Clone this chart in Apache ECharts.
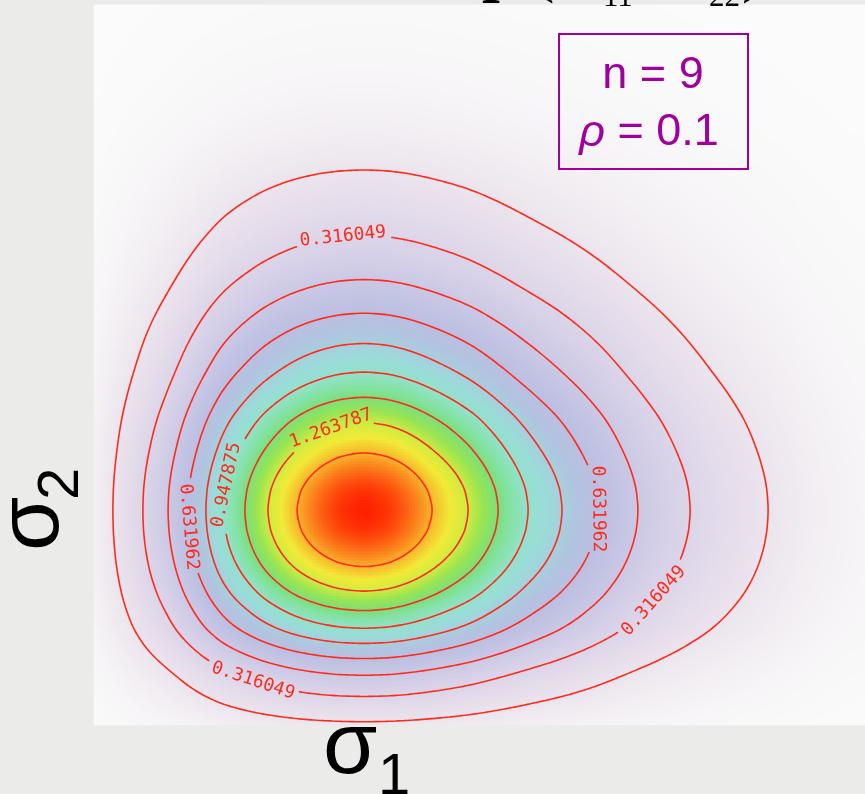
<!DOCTYPE html>
<html>
<head>
<meta charset="utf-8">
<script src="https://cdn.jsdelivr.net/npm/echarts@6/dist/echarts.min.js"></script>
<style>
  html, body { margin: 0; padding: 0; background: #ebebea; }
  #chart { width: 865px; height: 794px; }
</style>
</head>
<body>
<div id="chart"></div>
<script>
// Plotted window on the two σ axes
const sigma1Range = [0.10, 2.67];
const sigma2Range = [0.15, 3.00];
const cellsX = 257;
const cellsY = 240;

// Density profile through the mode (σ value, density relative to the peak)
const profileSigma = [0.02, 0.06, 0.103, 0.163, 0.263, 0.347, 0.413, 0.473, 0.533, 0.603, 0.680, 0.777,
                      0.844, 0.880, 0.931, 1.000, 1.069, 1.120, 1.156,
                      1.227, 1.347, 1.447, 1.547, 1.660, 1.780, 1.913, 2.087, 2.347, 2.53, 2.77, 2.933, 3.2];
const profileRelative = [0.003, 0.02, 0.05, 0.1, 0.2, 0.3, 0.4, 0.5, 0.6, 0.7, 0.8, 0.9,
                         0.95, 0.97, 0.99, 1.0, 0.99, 0.97, 0.95,
                         0.9, 0.8, 0.7, 0.6, 0.5, 0.4, 0.3, 0.2, 0.1, 0.05, 0.02, 0.01, 0.003];

// Density range and contour levels
const densityMin = 0.000137;
const densityMax = 1.579700;
const contourLevels = [0.158093, 0.316049, 0.474005, 0.631962, 0.789918, 0.947875, 1.105831, 1.263787, 1.421744];

// Which contours carry a value label, and roughly where
const contourLabels = [
  { level: 1, at: [0.93, 2.08] },
  { level: 1, at: [0.62, 0.30] },
  { level: 1, at: [1.97, 0.64] },
  { level: 3, at: [0.41, 0.93] },
  { level: 3, at: [1.79, 1.01], turn: -135 },
  { level: 5, at: [0.55, 1.10] },
  { level: 7, at: [0.89, 1.33] }
];

// Sample parameters shown in the legend box
const infoLines = ['n = 9', '= 0.1'];

// Colour ramp from zero density to the peak
const rampColors = ['#fbfbfb', '#f3eff3', '#ebe4ed', '#e4dcea', '#dcd5e9', '#d4cfe7', '#cac8e5',
                    '#c2c3e3', '#bbbfe1', '#b2c3e0', '#a6d0dd', '#9adcd8', '#92e2cc', '#86e2a8',
                    '#7ae07c', '#98e454', '#cdeb40', '#f2ea38', '#f8b42a', '#fc6e18', '#ff2200'];

const lineColor = '#ff2a1a';
const labelFont = '18px "DejaVu Sans Mono"';
const labelCharWidth = 10.84;

// Monotone cubic (Fritsch-Carlson) through given points
function monotoneCubic(xs, ys) {
  const n = xs.length;
  const h = [], d = [], m = new Array(n);
  for (let i = 0; i < n - 1; i++) {
    h[i] = xs[i + 1] - xs[i];
    d[i] = (ys[i + 1] - ys[i]) / h[i];
  }
  m[0] = d[0];
  m[n - 1] = d[n - 2];
  for (let i = 1; i < n - 1; i++) {
    if (d[i - 1] * d[i] <= 0) { m[i] = 0; continue; }
    const w1 = 2 * h[i] + h[i - 1], w2 = h[i] + 2 * h[i - 1];
    m[i] = (w1 + w2) / (w1 / d[i - 1] + w2 / d[i]);
  }
  return function (x) {
    if (x <= xs[0]) return ys[0] + m[0] * (x - xs[0]);
    if (x >= xs[n - 1]) return ys[n - 1] + m[n - 1] * (x - xs[n - 1]);
    let k = 0;
    while (x > xs[k + 1]) k++;
    const t = (x - xs[k]) / h[k];
    const t2 = t * t, t3 = t2 * t;
    return (2 * t3 - 3 * t2 + 1) * ys[k] + (t3 - 2 * t2 + t) * h[k] * m[k] +
           (-2 * t3 + 3 * t2) * ys[k + 1] + (t3 - t2) * h[k] * m[k + 1];
  };
}

// Work on the log of the profile so the product surface keeps convex contours
const logProfile = monotoneCubic(profileSigma, profileRelative.map(Math.log));
const profile = s => Math.exp(logProfile(s));

const dx = (sigma1Range[1] - sigma1Range[0]) / cellsX;
const dy = (sigma2Range[1] - sigma2Range[0]) / cellsY;
const xs = [], ys = [];
for (let i = 0; i < cellsX; i++) xs.push(sigma1Range[0] + (i + 0.5) * dx);
for (let j = 0; j < cellsY; j++) ys.push(sigma2Range[0] + (j + 0.5) * dy);
const fx = xs.map(profile), fy = ys.map(profile);

const field = [];
const heatData = [];
for (let j = 0; j < cellsY; j++) {
  const row = [];
  for (let i = 0; i < cellsX; i++) {
    const v = densityMin + (densityMax - densityMin) * fx[i] * fy[j];
    row.push(v);
    heatData.push([i, j, v]);
  }
  field.push(row);
}

// Marching squares: contour segments in σ units for each level
function contourSegmentsFor(level) {
  const segs = [];
  const lerp = (a, b, va, vb) => a + (b - a) * (level - va) / (vb - va);
  for (let j = 0; j < cellsY - 1; j++) {
    for (let i = 0; i < cellsX - 1; i++) {
      const v00 = field[j][i], v10 = field[j][i + 1], v01 = field[j + 1][i], v11 = field[j + 1][i + 1];
      const pts = [];
      if ((v00 > level) !== (v10 > level)) pts.push([lerp(xs[i], xs[i + 1], v00, v10), ys[j]]);
      if ((v10 > level) !== (v11 > level)) pts.push([xs[i + 1], lerp(ys[j], ys[j + 1], v10, v11)]);
      if ((v01 > level) !== (v11 > level)) pts.push([lerp(xs[i], xs[i + 1], v01, v11), ys[j + 1]]);
      if ((v00 > level) !== (v01 > level)) pts.push([xs[i], lerp(ys[j], ys[j + 1], v00, v01)]);
      if (pts.length === 2) {
        segs.push([pts[0][0], pts[0][1], pts[1][0], pts[1][1]]);
      } else if (pts.length === 4) {
        segs.push([pts[0][0], pts[0][1], pts[3][0], pts[3][1]]);
        segs.push([pts[1][0], pts[1][1], pts[2][0], pts[2][1]]);
      }
    }
  }
  return segs;
}
const contourSegments = contourLevels.map(contourSegmentsFor);

// Label placement on the contour, oriented along it (pixel space)
let placementCache = null;
function labelPlacements(api) {
  if (placementCache) return placementCache;
  placementCache = contourLabels.map(spec => {
    const target = api.coord(spec.at);
    const mids = contourSegments[spec.level].map(s => {
      const a = api.coord([s[0], s[1]]), b = api.coord([s[2], s[3]]);
      return [(a[0] + b[0]) / 2, (a[1] + b[1]) / 2];
    });
    let best = mids[0], bestD = Infinity;
    mids.forEach(p => {
      const d = (p[0] - target[0]) ** 2 + (p[1] - target[1]) ** 2;
      if (d < bestD) { bestD = d; best = p; }
    });
    const near = mids.filter(p => (p[0] - best[0]) ** 2 + (p[1] - best[1]) ** 2 < 26 * 26);
    let cx = 0, cy = 0;
    near.forEach(p => { cx += p[0]; cy += p[1]; });
    cx /= near.length; cy /= near.length;
    let sxx = 0, syy = 0, sxy = 0;
    near.forEach(p => {
      const ex = p[0] - cx, ey = p[1] - cy;
      sxx += ex * ex; syy += ey * ey; sxy += ex * ey;
    });
    const theta = 0.5 * Math.atan2(2 * sxy, sxx - syy);
    let deg = -theta * 180 / Math.PI;
    const lo = spec.turn != null ? spec.turn : -90;
    while (deg < lo) deg += 180;
    while (deg >= lo + 180) deg -= 180;
    const text = contourLevels[spec.level].toFixed(6);
    return { x: best[0], y: best[1], deg, text, level: spec.level,
             halfLen: text.length * labelCharWidth / 2 + 5 };
  });
  return placementCache;
}

function insideLabel(px, py, level, places) {
  for (const p of places) {
    if (p.level !== level) continue;
    const a = p.deg * Math.PI / 180;
    const rx = px - p.x, ry = py - p.y;
    const along = rx * Math.cos(a) - ry * Math.sin(a);
    const perp = rx * Math.sin(a) + ry * Math.cos(a);
    if (Math.abs(along) < p.halfLen && Math.abs(perp) < 10) return true;
  }
  return false;
}

const chart = echarts.init(document.getElementById('chart'), null, { renderer: 'canvas' });

const gridRect = { left: 94, top: 5, width: 771, height: 720 };
const purple = '#a000a0';

const option = {
  animation: false,
  backgroundColor: '#ebebea',
  grid: [Object.assign({}, gridRect), Object.assign({}, gridRect)],
  xAxis: [
    { type: 'category', gridIndex: 0, data: xs.map(v => v.toFixed(3)), show: false },
    { type: 'value', gridIndex: 1, min: sigma1Range[0], max: sigma1Range[1], show: false }
  ],
  yAxis: [
    { type: 'category', gridIndex: 0, data: ys.map(v => v.toFixed(4)), show: false },
    { type: 'value', gridIndex: 1, min: sigma2Range[0], max: sigma2Range[1], show: false }
  ],
  visualMap: {
    type: 'continuous', show: false, seriesIndex: 0,
    min: 0, max: densityMax,
    inRange: { color: rampColors }
  },
  series: [
    {
      type: 'heatmap', xAxisIndex: 0, yAxisIndex: 0,
      data: heatData, progressive: 0, silent: true,
      emphasis: { disabled: true },
      itemStyle: { borderWidth: 0 }
    },
    {
      type: 'custom', xAxisIndex: 1, yAxisIndex: 1, silent: true, z: 5,
      data: contourLevels.map((v, k) => [sigma1Range[0], sigma2Range[0], k]),
      renderItem: function (params, api) {
        const k = api.value(2);
        const places = labelPlacements(api);
        let d = '';
        contourSegments[k].forEach(s => {
          const a = api.coord([s[0], s[1]]), b = api.coord([s[2], s[3]]);
          if (insideLabel((a[0] + b[0]) / 2, (a[1] + b[1]) / 2, k, places)) return;
          d += 'M' + a[0].toFixed(2) + ' ' + a[1].toFixed(2) + 'L' + b[0].toFixed(2) + ' ' + b[1].toFixed(2);
        });
        return {
          type: 'path',
          shape: { pathData: d || 'M0 0' },
          style: { stroke: lineColor, lineWidth: 1.6, fill: null, lineCap: 'round', lineJoin: 'round' }
        };
      }
    },
    {
      type: 'custom', xAxisIndex: 1, yAxisIndex: 1, silent: true, z: 6,
      data: contourLabels.map((s, k) => [s.at[0], s.at[1], k]),
      renderItem: function (params, api) {
        const p = labelPlacements(api)[api.value(2)];
        return {
          type: 'text',
          x: p.x, y: p.y,
          rotation: p.deg * Math.PI / 180,
          style: {
            text: p.text, fill: lineColor, font: labelFont,
            align: 'center', verticalAlign: 'middle'
          }
        };
      }
    }
  ],
  graphic: [
    // legend box with the sample parameters
    { type: 'rect', z: 100, shape: { x: 559, y: 34, width: 189, height: 135 },
      style: { fill: 'rgba(255,255,255,0)', stroke: purple, lineWidth: 2 } },
    { type: 'text', z: 101, x: 653, y: 76,
      style: { text: infoLines[0], fill: purple, font: '45px "Liberation Sans"', align: 'center', verticalAlign: 'middle' } },
    { type: 'text', z: 101, x: 649, y: 133,
      style: { text: '{i|ρ} ' + infoLines[1], fill: purple, font: '45px "Liberation Sans"', align: 'center', verticalAlign: 'middle',
               rich: { i: { fontStyle: 'italic', fontSize: 45, fontFamily: 'Liberation Sans', fill: purple } } } },
    // axis titles
    { type: 'text', z: 101, x: 323, y: 749,
      style: { text: 'σ', fill: '#000', font: '88px "Liberation Sans"', align: 'left', verticalAlign: 'middle' } },
    { type: 'text', z: 101, x: 378, y: 778,
      style: { text: '1', fill: '#000', font: '58px "Liberation Sans"', align: 'left', verticalAlign: 'middle' } },
    { type: 'text', z: 101, x: 34, y: 551, rotation: Math.PI / 2,
      style: { text: 'σ', fill: '#000', font: '88px "Liberation Sans"', align: 'left', verticalAlign: 'middle' } },
    { type: 'text', z: 101, x: 62, y: 500, rotation: Math.PI / 2,
      style: { text: '2', fill: '#000', font: '58px "Liberation Sans"', align: 'left', verticalAlign: 'middle' } },
    // heading above the plot
    { type: 'text', z: 101, x: 482, y: -28,
      style: { text: 'p', fill: '#000', font: 'bold 64px "Liberation Serif"', align: 'left', verticalAlign: 'middle' } },
    { type: 'text', z: 101, x: 533, y: -27,
      style: { text: '(σ', fill: '#000', font: '64px "Liberation Serif"', align: 'left', verticalAlign: 'middle' } },
    { type: 'text', z: 101, x: 603, y: -2,
      style: { text: '11', fill: '#000', font: '31px "Liberation Serif"', align: 'left', verticalAlign: 'middle' } },
    { type: 'text', z: 101, x: 660, y: -27,
      style: { text: 'σ', fill: '#000', font: '64px "Liberation Serif"', align: 'left', verticalAlign: 'middle' } },
    { type: 'text', z: 101, x: 709, y: -2,
      style: { text: '22', fill: '#000', font: '31px "Liberation Serif"', align: 'left', verticalAlign: 'middle' } },
    { type: 'text', z: 101, x: 742, y: -27,
      style: { text: ')', fill: '#000', font: '64px "Liberation Serif"', align: 'left', verticalAlign: 'middle' } }
  ]
};

chart.setOption(option);
</script>
</body>
</html>
